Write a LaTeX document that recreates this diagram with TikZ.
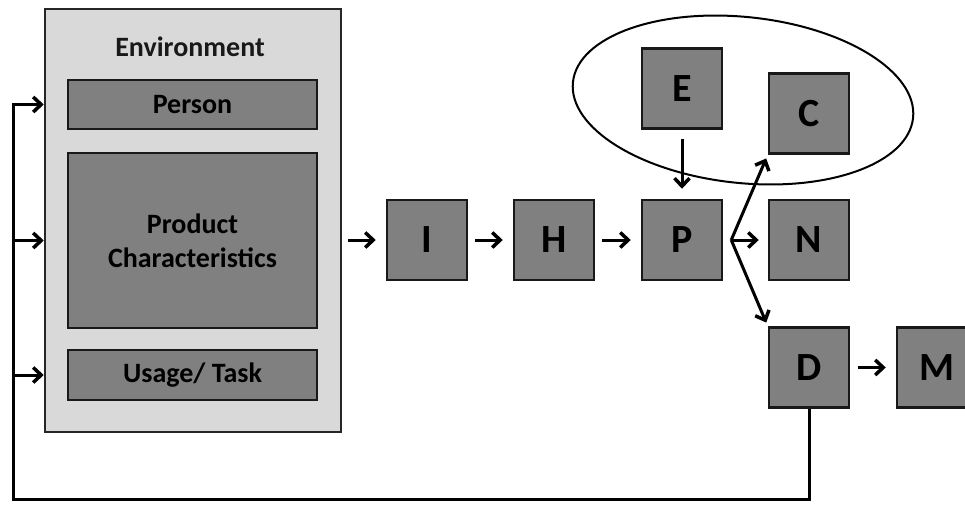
\documentclass[tikz,border=0pt]{standalone}
\usepackage{fontspec}
\setmainfont{Carlito}
\usepackage{tikz}
\usetikzlibrary{arrows.meta}

\tikzset{
  blk/.style={draw=black!90, line width=2.5pt, fill=black!50, minimum width=80pt, minimum height=80pt,
    font=\fontsize{40}{44}\selectfont\bfseries, text=black},
  bar/.style={blk, minimum width=249pt, font=\fontsize{28}{34}\selectfont\bfseries, align=center},
  arr/.style={-{Straight Barb[length=8pt,width=15pt,line width=3.5pt]}, line width=3pt},
}

\begin{document}
\begin{tikzpicture}[x=1pt,y=-1pt]
    \clip (0,0) rectangle (965,504);
    \fill[white] (0,0) rectangle (965,504);

    \node [draw=black!85, line width=2.5pt, fill=black!15, minimum width=296pt, minimum height=423pt] (env) at (193,220.5) {};
    \node [font=\fontsize{28}{30}\selectfont\bfseries, text=black!90] (envtxt) at (190,47) {Environment};
    \node [bar, minimum height=49pt] (person) at (192.5,104.5) {Person};
    \node [bar, minimum height=175pt] (product) at (192.5,240.5) {Product\\Characteristics};
    \node [bar, minimum height=50pt] (usage) at (192.5,375) {Usage/ Task};

    \node [blk] (I) at (427,240) {I};
    \node [blk] (H) at (554,240) {H};
    \node [blk] (P) at (682,240) {P};
    \node [blk] (E) at (682,88.5) {E};
    \node [blk] (C) at (809,113.5) {C};
    \node [blk] (N) at (809,240) {N};
    \node [blk] (D) at (809,367.5) {D};
    \node [blk] (M) at (937,367.5) {M};

    \draw [line width=2pt, rotate around={-6:(743,100)}] (743,100) ellipse [x radius=171, y radius=83];

    \draw [arr, shorten <=6pt, shorten >=10pt] (env.east |- I.west) -- (I.west);
    \draw [arr, shorten <=7pt, shorten >=10pt] (I) -- (H);
    \draw [arr, shorten <=7pt, shorten >=10pt] (H) -- (P);
    \draw [arr, shorten <=9pt, shorten >=10pt] (E) -- (P);
    \coordinate (fork) at ([xshift=8pt]P.east);
    \draw [arr, shorten >=9pt] (fork) -- (N);
    \draw [arr, shorten >=4pt] (fork) -- (C.south west);
    \draw [arr, shorten >=4pt] (fork) -- (D.north west);
    \draw [arr, shorten <=8pt, shorten >=10pt] (D) -- (M);

    \coordinate (lb) at (13,499);
    \draw [arr] (D.south) |- (lb) |- (env.west |- person);
    \draw [arr] (lb |- product) -- (env.west |- product);
    \draw [arr] (lb |- usage) -- (env.west |- usage);
\end{tikzpicture}
\end{document}
